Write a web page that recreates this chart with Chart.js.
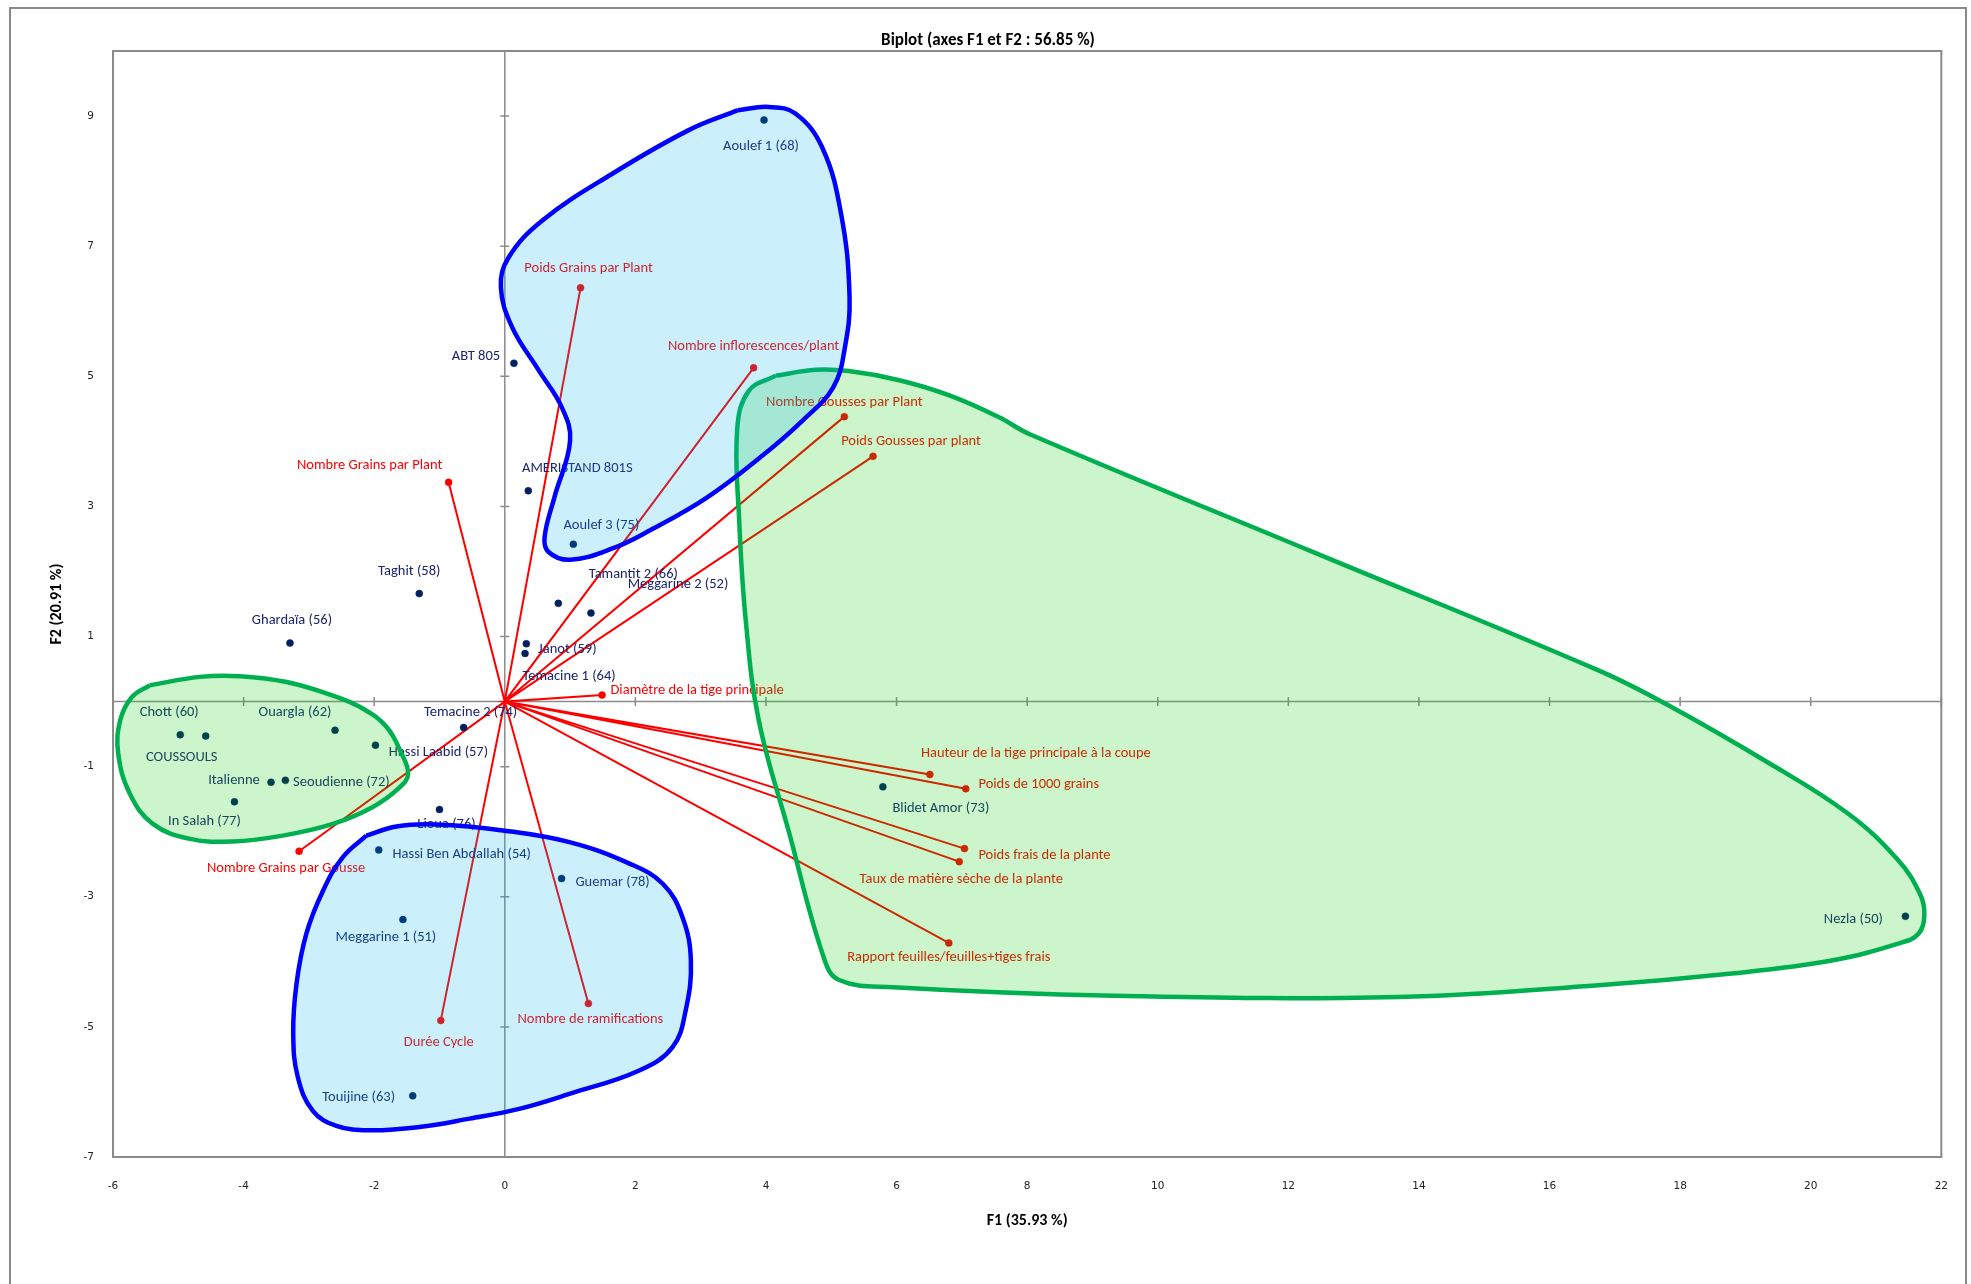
<!DOCTYPE html>
<html>
<head>
<meta charset="utf-8">
<script src="https://cdn.jsdelivr.net/npm/chart.js@4.4.0/dist/chart.umd.min.js"></script>
<style>
  html, body { margin: 0; padding: 0; background: #fff; }
</style>
</head>
<body>
<canvas id="biplot" width="1971" height="1284"></canvas>
<script>
// Observations (F1, F2)
const obsLabels = [
  'Aoulef 1 (68)', 'ABT 805', 'AMERISTAND 801S', 'Aoulef 3 (75)', 'Taghit (58)',
  'Tamantit 2 (66)', 'Meggarine 2 (52)', 'Janot (59)', 'Temacine 1 (64)', 'Ghardaïa (56)',
  'Chott (60)', 'COUSSOULS', 'Ouargla (62)', 'Hassi Laabid (57)', 'Italienne',
  'Seoudienne (72)', 'In Salah (77)', 'Temacine 2 (74)', 'Lioua (76)', 'Hassi Ben Abdallah (54)',
  'Guemar (78)', 'Meggarine 1 (51)', 'Touijine (63)', 'Blidet Amor (73)', 'Nezla (50)'
];
const obsF1 = [3.97, 0.14, 0.36, 1.05, -1.31, 0.82, 1.32, 0.33, 0.31, -3.29,
  -4.97, -4.58, -2.60, -1.98, -3.58, -3.36, -4.14, -0.63, -1.00, -1.93,
  0.87, -1.56, -1.41, 5.79, 21.45];
const obsF2 = [8.94, 5.20, 3.24, 2.42, 1.66, 1.51, 1.36, 0.89, 0.74, 0.90,
  -0.51, -0.53, -0.44, -0.67, -1.24, -1.21, -1.54, -0.40, -1.66, -2.28,
  -2.72, -3.35, -6.06, -1.31, -3.30];

// Variables (F1, F2)
const varLabels = [
  'Poids Grains par Plant', 'Nombre inflorescences/plant', 'Nombre Gousses par Plant',
  'Poids Gousses par plant', 'Nombre Grains par Plant', 'Diamètre de la tige principale',
  'Hauteur de la tige principale à la coupe', 'Poids de 1000 grains', 'Poids frais de la plante',
  'Taux de matière sèche de la plante', 'Rapport feuilles/feuilles+tiges frais',
  'Nombre Grains par Gousse', 'Durée Cycle', 'Nombre de ramifications'
];
const varF1 = [1.16, 3.81, 5.20, 5.64, -0.86, 1.49, 6.51, 7.06, 7.04, 6.96, 6.80, -3.15, -0.98, 1.28];
const varF2 = [6.36, 5.13, 4.38, 3.77, 3.37, 0.10, -1.12, -1.34, -2.26, -2.46, -3.71, -2.30, -4.90, -4.64];

// Axis ticks
const xTicks = [-6, -4, -2, 0, 2, 4, 6, 8, 10, 12, 14, 16, 18, 20, 22];
const yTicks = [-7, -5, -3, -1, 1, 3, 5, 7, 9];

// Group outlines drawn over the plot (F1, F2)
const blueTopOutline = [
  [3.57, 9.09], [4.04, 9.14], [4.45, 9.04], [4.86, 8.52], [5.15, 7.50], [5.28, 6.22],
  [5.21, 5.45], [5.03, 4.83], [4.56, 4.32], [3.98, 3.81], [3.10, 3.14], [2.22, 2.63],
  [1.64, 2.35], [1.00, 2.18], [0.67, 2.30], [0.61, 2.53], [0.76, 3.14], [1.00, 4.01],
  [0.87, 4.53], [0.52, 5.09], [0.11, 5.76], [-0.06, 6.37], [0.06, 6.83], [0.58, 7.40],
  [1.64, 8.11], [2.81, 8.78], [3.57, 9.09]
];
const blueBottomOutline = [
  [-2.12, -2.06], [-1.66, -1.92], [-1.05, -1.89], [-0.03, -1.98], [0.99, -2.16], [1.91, -2.49],
  [2.42, -2.80], [2.72, -3.31], [2.85, -3.98], [2.77, -4.75], [2.57, -5.31], [2.06, -5.67],
  [0.99, -6.03], [0.22, -6.26], [-0.54, -6.41], [-1.31, -6.54], [-2.07, -6.59], [-2.58, -6.52],
  [-2.94, -6.29], [-3.17, -5.77], [-3.24, -5.11], [-3.19, -4.34], [-3.04, -3.57], [-2.78, -2.90],
  [-2.48, -2.39], [-2.12, -2.06]
];
const greenLeftOutline = [
  [-5.44, 0.25], [-4.67, 0.38], [-4.06, 0.39], [-3.34, 0.30], [-2.63, 0.09], [-2.17, -0.11],
  [-1.81, -0.39], [-1.59, -0.78], [-1.48, -1.11], [-1.61, -1.32], [-2.02, -1.62], [-2.63, -1.88],
  [-3.40, -2.06], [-4.16, -2.15], [-4.82, -2.11], [-5.39, -1.88], [-5.74, -1.42], [-5.92, -0.80],
  [-5.89, -0.29], [-5.71, 0.07], [-5.44, 0.25]
];
const greenBigOutline = [
  [4.15, 5.01], [4.76, 5.10], [5.27, 5.08], [6.04, 4.94], [6.80, 4.71], [7.57, 4.37],
  [8.04, 4.11], [12.40, 2.29], [16.75, 0.48], [17.77, -0.03], [19.30, -0.91], [20.57, -1.72],
  [21.34, -2.44], [21.67, -2.95], [21.74, -3.26], [21.65, -3.57], [21.34, -3.72], [20.32, -3.98],
  [18.79, -4.18], [16.75, -4.36], [13.69, -4.54], [9.34, -4.52], [5.95, -4.39], [5.12, -4.28],
  [4.88, -3.92], [4.35, -2.00], [3.89, -0.29], [3.69, 1.25], [3.59, 2.78], [3.56, 4.20],
  [3.74, 4.78], [4.15, 5.01]
];

// label placement around the marks (pixels)
const obsLabelOffset = [
  [-3, 26], [-38, -7], [49, -22], [28, -19], [-10, -22], [75, -29], [87, -29], [41, 6], [44, 23],
  [2, -23], [-11, -22], [-24, 21], [-40, -18], [63, 7], [-37, -2], [56, 2], [-30, 20], [7, -15],
  [7, 15], [83, 4], [51, 4], [-17, 18], [-54, 2], [58, 22], [-52, 3]
];
const varLabelOffset = [
  [8, -19], [0, -21], [0, -14], [38, -15], [-79, -17], [95, -5], [106, -21], [73, -4], [80, 7],
  [2, 18], [0, 14], [-13, 17], [-2, 22], [2, 16]
];

const FONT = 'Carlito, Calibri, Lato, sans-serif';

const obsData = obsF1.map((x, i) => ({ x, y: obsF2[i] }));
// each vector: origin -> variable point (origin repeated so lines retrace)
const vectorData = [];
const vectorText = [];
const vectorOffset = [];
varF1.forEach((x, i) => {
  vectorData.push({ x: 0, y: 0 }, { x, y: varF2[i] });
  vectorText.push(null, varLabels[i]);
  vectorOffset.push(null, varLabelOffset[i]);
});

function outline(points, line, fill) {
  return {
    data: points.map(p => ({ x: p[0], y: p[1] })),
    showLine: true,
    tension: 0.4,
    borderColor: line,
    borderWidth: 4.5,
    backgroundColor: fill,
    fill: 'shape',
    pointRadius: 0,
    order: 0
  };
}

const frame = {
  id: 'frame',
  beforeDraw(chart) {
    const { ctx } = chart;
    ctx.save();
    ctx.strokeStyle = '#8a8a8a';
    ctx.lineWidth = 2;
    ctx.strokeRect(10, 8, 1956, 1290);
    ctx.restore();
  },
  beforeDatasetsDraw(chart) {
    const { ctx, chartArea: a, scales: { x, y } } = chart;
    const x0 = x.getPixelForValue(0);
    const y0 = y.getPixelForValue(0);
    ctx.save();
    ctx.strokeStyle = '#8c8c8c';
    ctx.lineWidth = 1.5;
    ctx.beginPath();
    ctx.moveTo(x0, a.top); ctx.lineTo(x0, a.bottom);
    ctx.moveTo(a.left, y0); ctx.lineTo(a.right, y0);
    xTicks.forEach(v => {
      const p = x.getPixelForValue(v);
      ctx.moveTo(p, y0 - 4.5); ctx.lineTo(p, y0 + 4.5);
    });
    yTicks.forEach(v => {
      const p = y.getPixelForValue(v);
      ctx.moveTo(x0 - 4.5, p); ctx.lineTo(x0 + 4.5, p);
    });
    ctx.stroke();
    ctx.restore();
  },
  afterDraw(chart) {
    const { ctx, chartArea: a } = chart;
    ctx.save();
    ctx.strokeStyle = '#8a8a8a';
    ctx.lineWidth = 2;
    ctx.strokeRect(a.left, a.top, a.right - a.left, a.bottom - a.top);
    ctx.restore();
  }
};

const pointLabels = {
  id: 'pointLabels',
  afterDatasetDraw(chart, args) {
    const ds = chart.data.datasets[args.index];
    if (!ds.pointText) return;
    const { ctx } = chart;
    ctx.save();
    ctx.font = '14.5px ' + FONT;
    ctx.fillStyle = ds.textColor;
    ctx.textAlign = 'center';
    ctx.textBaseline = 'middle';
    args.meta.data.forEach((el, i) => {
      const t = ds.pointText[i];
      if (!t) return;
      const o = ds.textOffset[i];
      ctx.fillText(t, el.x + o[0], el.y + o[1]);
    });
    ctx.restore();
  }
};

new Chart(document.getElementById('biplot'), {
  type: 'scatter',
  data: {
    datasets: [
      outline(blueTopOutline, '#0000ff', 'rgba(0,176,240,0.2)'),
      outline(blueBottomOutline, '#0000ff', 'rgba(0,176,240,0.2)'),
      outline(greenBigOutline, '#00b050', 'rgba(0,205,0,0.2)'),
      outline(greenLeftOutline, '#00b050', 'rgba(0,205,0,0.2)'),
      {
        label: 'Variables',
        data: vectorData,
        showLine: true,
        borderColor: '#ff0000',
        borderWidth: 2,
        pointRadius: ctx => (ctx.dataIndex % 2 ? 3.5 : 0),
        pointBackgroundColor: '#ff0000',
        pointBorderColor: '#ff0000',
        pointBorderWidth: 0.5,
        pointText: vectorText,
        textOffset: vectorOffset,
        textColor: '#ff0000',
        order: 2
      },
      {
        label: 'Observations',
        data: obsData,
        pointRadius: 3.5,
        pointBackgroundColor: '#002060',
        pointBorderColor: '#002060',
        pointBorderWidth: 0.5,
        pointText: obsLabels,
        textOffset: obsLabelOffset,
        textColor: '#1a2470',
        order: 1
      }
    ]
  },
  options: {
    responsive: false,
    animation: false,
    layout: { padding: { left: 31, right: 26, top: 0, bottom: 0 } },
    plugins: {
      legend: { display: false },
      tooltip: { enabled: false },
      title: {
        display: true,
        text: 'Biplot (axes F1 et F2 : 56.85 %)',
        color: '#000',
        font: { family: FONT, size: 17, weight: 'bold' },
        padding: { top: 30.3, bottom: 0.3 }
      }
    },
    scales: {
      x: {
        type: 'linear',
        min: -6,
        max: 22,
        afterBuildTicks: ax => { ax.ticks = xTicks.map(v => ({ value: v })); },
        afterFit: ax => { ax.height = 127; },
        grid: { display: false, drawTicks: false },
        border: { display: false },
        ticks: { padding: 23, color: '#222', maxRotation: 0, autoSkip: false,
          font: { family: 'DejaVu Sans', size: 10.5 } },
        title: { display: true, text: 'F1 (35.93 %)', color: '#000',
          font: { family: FONT, size: 16, weight: 'bold' }, padding: { top: 0, bottom: 53 } }
      },
      y: {
        type: 'linear',
        min: -7,
        max: 10,
        afterBuildTicks: ax => { ax.ticks = yTicks.map(v => ({ value: v })); },
        afterFit: ax => { ax.width = 82; },
        grid: { display: false, drawTicks: false },
        border: { display: false },
        ticks: { padding: 19, color: '#222', autoSkip: false,
          font: { family: 'DejaVu Sans', size: 10.5 } },
        title: { display: true, text: 'F2 (20.91 %)', color: '#000',
          font: { family: FONT, size: 16, weight: 'bold' }, padding: { top: 16.4, bottom: 0 } }
      }
    }
  },
  plugins: [frame, pointLabels]
});
</script>
</body>
</html>
